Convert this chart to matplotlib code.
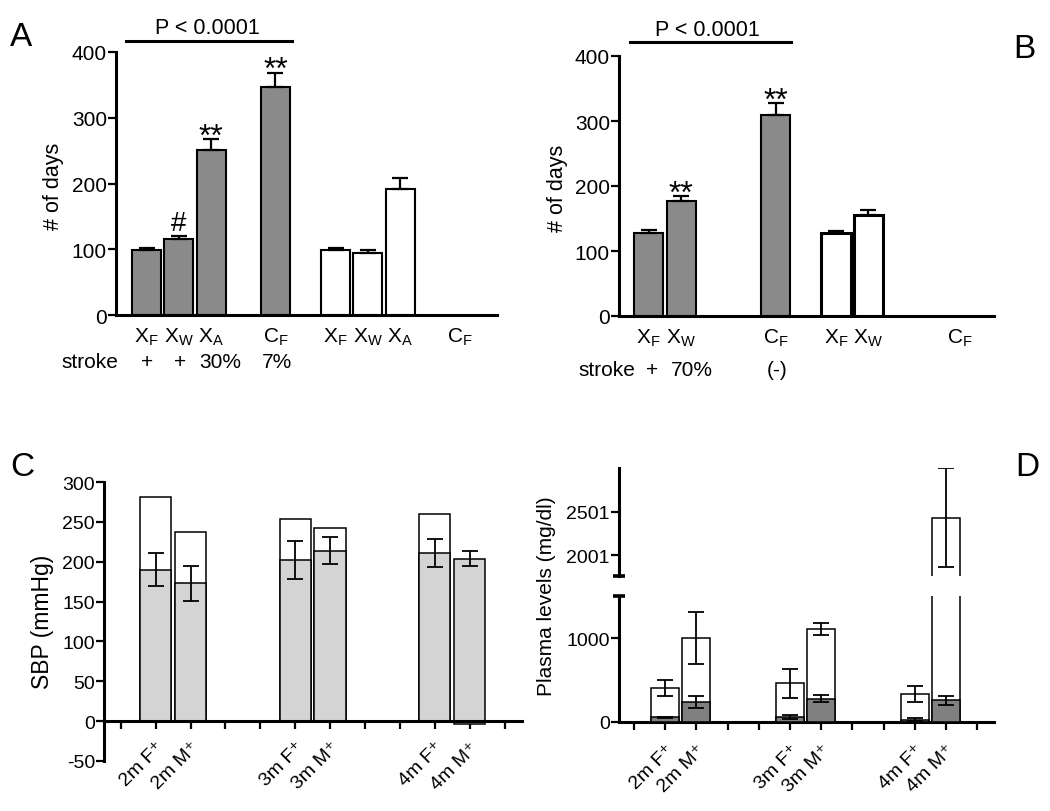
import numpy as np
import matplotlib
matplotlib.use("Agg")
import matplotlib.pyplot as plt

plt.rcParams['font.family'] = ['Liberation Sans', 'DejaVu Sans']
plt.rcParams['mathtext.fontset'] = 'custom'
plt.rcParams['mathtext.rm'] = 'Liberation Sans'
plt.rcParams['mathtext.it'] = 'Liberation Sans'
plt.rcParams['axes.unicode_minus'] = False

# ---- panel A data ----
a_labels = [r'$\mathrm{X_F}$', r'$\mathrm{X_W}$', r'$\mathrm{X_A}$', r'$\mathrm{C_F}$']
a_gray = [99, 116, 251, 347]
a_gray_sem = [3, 4, 16, 21]
a_white = [99, 95, 192, np.nan]
a_white_sem = [3, 4, 16, np.nan]
a_stroke = ['+', '+', '30%', '7%']
a_marks = ['', '#', '**', '**']

# ---- panel B data ----
b_labels = [r'$\mathrm{X_F}$', r'$\mathrm{X_W}$', r'$\mathrm{C_F}$']
b_gray = [127, 177, 310]
b_gray_sem = [5, 7, 17]
b_white = [128, 156, np.nan]
b_white_sem = [3, 7, np.nan]
b_stroke = ['+', '70%', '(-)']
b_marks = ['', '**', '**']

# ---- panel C data ----
c_labels = ['2m F\u207a', '2m M\u207a', '3m F\u207a', '3m M\u207a', '4m F\u207a', '4m M\u207a']
c_outer = [281, 237, 253, 242, 260, -3]
c_inner = [190, 173, 202, 214, 211, 204]
c_inner_sd = [21, 22, 24, 17, 18, 10]

# ---- panel D data ----
d_labels = c_labels
d_white = [408, 1000, 460, 1107, 333, 2432]
d_white_err = [95, 305, 175, 67, 90, 566]
d_gray = [55, 238, 55, 277, 27, 257]
d_gray_err = [10, 77, 24, 39, 15, 58]

GRAY = '#8a8a8a'
LIGHT = '#d4d4d4'
W, H = 1050, 812

fig = plt.figure(figsize=(10.5, 8.12), dpi=100)


def px_axes(x0, x1, y0, y1):
    # axes from pixel box (top-left origin)
    return fig.add_axes([x0 / W, 1 - y1 / H, (x1 - x0) / W, (y1 - y0) / H])


def style(ax, fs):
    for s in ['top', 'right']:
        ax.spines[s].set_visible(False)
    for s in ['left', 'bottom']:
        ax.spines[s].set_linewidth(2.2)
    ax.tick_params(axis='y', length=5.5, width=1.6, labelsize=fs, pad=1)


def days_panel(ax, pos_g, pos_w, labels, gray, gsem, white, wsem, stroke, marks,
               stroke_x, stroke_lab_x, stroke_y, white_lw):
    style(ax, 15)
    ax.set_ylim(0, 400)
    ax.set_yticks([0, 100, 200, 300, 400])
    ax.bar(pos_g, gray, 0.9, color=GRAY, edgecolor='black', linewidth=1.5, zorder=2)
    ax.errorbar(pos_g, gray, yerr=[np.zeros(len(gray)), gsem], fmt='none',
                ecolor='black', elinewidth=1.6, capsize=6, capthick=1.6, zorder=3)
    ax.bar(pos_w, white, 0.9, color='white', edgecolor='black', linewidth=white_lw, zorder=2)
    ax.errorbar(pos_w, white, yerr=[np.zeros(len(white)), wsem], fmt='none',
                ecolor='black', elinewidth=1.6, capsize=6, capthick=1.6, zorder=3)
    ax.set_xticks(list(pos_g) + list(pos_w))
    ax.set_xticklabels(labels + labels, fontsize=15)
    ax.tick_params(axis='x', length=0, pad=8)
    tr = ax.get_xaxis_transform()
    ax.text(stroke_lab_x, stroke_y, 'stroke', transform=tr, ha='right', va='center', fontsize=15)
    for x, s in zip(stroke_x, stroke):
        ax.text(x, stroke_y, s, transform=tr, ha='center', va='center', fontsize=15)
    for x, v, e, m in zip(pos_g, gray, gsem, marks):
        if m == '#':
            ax.text(x, v + e + 10, m, ha='center', va='baseline', fontsize=20)
        elif m:
            ax.text(x, v + e - 8, m, ha='center', va='baseline', fontsize=23)


# ---- A ----
axA = px_axes(116, 497, 53, 316)
axA.set_xlim(-0.95, 10.88)
days_panel(axA, [0, 1, 2, 4], [5.87, 6.87, 7.88, 9.74], a_labels, a_gray, a_gray_sem,
           a_white, a_white_sem, a_stroke, a_marks, [0, 1.05, 2.28, 4.05], -0.88, -0.178, 1.5)
axA.plot([-0.64, 4.52], [417, 417], color='black', lw=2.2, clip_on=False)
axA.text(1.88, 438, 'P < 0.0001', ha='center', va='center', fontsize=15.5)

# ---- B ----
axB = px_axes(619, 994, 57, 317)
axB.set_xlim(-0.91, 10.6)
days_panel(axB, [0, 1, 3.9], [5.75, 6.74, 9.55], b_labels, b_gray, b_gray_sem,
           b_white, b_white_sem, b_stroke, b_marks, [0.1, 1.34, 3.95], -0.42, -0.206, 2.2)
axB.plot([-0.57, 4.36], [421, 421], color='black', lw=2.2, clip_on=False)
axB.text(1.80, 441, 'P < 0.0001', ha='center', va='center', fontsize=15.5)

# ---- C ----
axC = px_axes(104, 522, 483, 762)
style(axC, 14)
axC.spines['bottom'].set_position(('data', 0))
axC.set_ylim(-50, 300)
axC.set_xlim(-0.48, 11.5)
axC.set_yticks(range(-50, 301, 50))
c_pos = [1, 2, 5, 6, 9, 10]
axC.bar(c_pos, c_outer, 0.9, color='white', edgecolor='black', linewidth=1.1, zorder=2)
axC.bar(c_pos, c_inner, 0.9, color=LIGHT, edgecolor='black', linewidth=1.1, zorder=2)
axC.errorbar(c_pos, c_inner, yerr=c_inner_sd, fmt='none', ecolor='black',
             elinewidth=1.3, capsize=5.5, capthick=1.3, zorder=3)
ticklab = [''] * 12
for p, l in zip(c_pos, c_labels):
    ticklab[p] = l
axC.set_xticks(range(12))
axC.set_xticklabels(ticklab, rotation=45, ha='right', rotation_mode='anchor', fontsize=14)
axC.tick_params(axis='x', length=5.5, width=1.6, pad=7)

# ---- D (broken axis) ----
axDl = px_axes(619, 994, 597, 723)
axDu = px_axes(619, 994, 469, 577)
for ax in (axDl, axDu):
    style(ax, 14)
    ax.set_xlim(-0.48, 11.54)
    ax.bar(c_pos, d_white, 0.9, color='white', edgecolor='black', linewidth=1.1, zorder=2)
    ax.errorbar(c_pos, d_white, yerr=d_white_err, fmt='none', ecolor='black',
                elinewidth=1.3, capsize=5.5, capthick=1.3, zorder=3)
    ax.bar(c_pos, d_gray, 0.9, color='#808080', edgecolor='black', linewidth=1.1, zorder=4)
    ax.errorbar(c_pos, d_gray, yerr=d_gray_err, fmt='none', ecolor='black',
                elinewidth=1.3, capsize=5.5, capthick=1.3, zorder=5)
axDl.set_ylim(0, 1500)
axDl.set_yticks([0, 1000])
axDl.set_xticks(range(12))
axDl.set_xticklabels(ticklab, rotation=45, ha='right', rotation_mode='anchor', fontsize=14)
axDl.tick_params(axis='x', length=5.5, width=1.6, pad=8)
axDu.set_ylim(1760, 3001)
axDu.set_yticks([2001, 2501])
axDu.spines['bottom'].set_visible(False)
axDu.set_xticks([])
# break caps on the y axis
axDl.plot([0], [1500], marker='_', ms=9, mew=2.6, color='black',
          transform=axDl.get_yaxis_transform(), clip_on=False)
axDu.plot([0], [1760], marker='_', ms=9, mew=2.6, color='black',
          transform=axDu.get_yaxis_transform(), clip_on=False)

# ---- y labels and panel letters ----
fig.text(53 / W, 1 - 186 / H, '# of days', rotation=90, ha='center', va='center', fontsize=15.5)
fig.text(557 / W, 1 - 188 / H, '# of days', rotation=90, ha='center', va='center', fontsize=15.5)
fig.text(43 / W, 1 - 622 / H, 'SBP (mmHg)', rotation=90, ha='center', va='center', fontsize=16.5)
fig.text(547 / W, 1 - 596 / H, 'Plasma levels (mg/dl)', rotation=90, ha='center', va='center', fontsize=15)
for lab, x, y in [('A', 21, 37), ('B', 1024, 50), ('C', 22, 467), ('D', 1027, 468)]:
    fig.text(x / W, 1 - y / H, lab, ha='center', va='center', fontsize=24)

fig.savefig('out.png', dpi=100)
